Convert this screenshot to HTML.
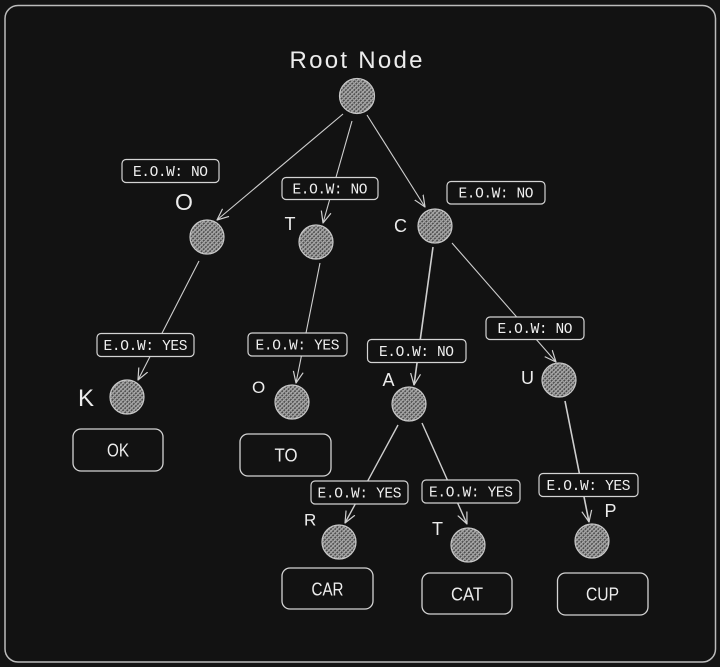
<!DOCTYPE html>
<html><head><meta charset="utf-8"><style>
html,body{margin:0;padding:0;background:#121212;}
svg{display:block;}
.m{font-family:"Liberation Mono",monospace;font-size:14.5px;fill:#f0f0f0;}
.s{font-family:"Liberation Sans",sans-serif;fill:#ececec;}
</style></head><body>
<svg width="720" height="667" viewBox="0 0 720 667" xmlns="http://www.w3.org/2000/svg">
<defs>
<pattern id="h" width="3" height="3" patternUnits="userSpaceOnUse" patternTransform="rotate(45)">
<rect width="3" height="3" fill="#4a4a4a"/>
<rect width="1.3" height="3" fill="#b4b4b4"/>
<rect width="3" height="1.1" fill="#9e9e9e"/>
</pattern>
<marker id="a" viewBox="0 0 12 12" refX="11.5" refY="6" markerWidth="12" markerHeight="12" markerUnits="userSpaceOnUse" orient="auto">
<path d="M0,1 L11.5,6 L0,11" fill="none" stroke="#d0d0d0" stroke-width="1.2"/>
</marker>
</defs>
<rect x="0" y="0" width="720" height="667" fill="#141414"/>
<rect x="5" y="5.5" width="710.5" height="656.5" rx="13" fill="#121212" stroke="#bcbcbc" stroke-width="1.5"/>

<text class="s" x="356" y="68" font-size="24" text-anchor="middle" textLength="133" lengthAdjust="spacing">Root Node</text>

<g stroke="#cfcfcf" stroke-width="1.1" fill="none" marker-end="url(#a)">
<line x1="343" y1="114" x2="217" y2="220"/>
<line x1="352" y1="121" x2="323" y2="223"/>
<line x1="367" y1="115" x2="425" y2="207"/>
<line x1="199" y1="261" x2="138" y2="380"/>
<line x1="320" y1="263" x2="296" y2="383"/>
<line x1="433" y1="247" x2="414" y2="385" stroke-width="1.6"/>
<line x1="452" y1="243" x2="556" y2="362"/>
<line x1="398" y1="425" x2="345" y2="523" stroke-width="1.4"/>
<line x1="422" y1="423" x2="467" y2="524" stroke-width="1.4"/>
<line x1="565" y1="401" x2="589" y2="522" stroke-width="1.6"/>
</g>

<g fill="url(#h)" stroke="#c8c8c8" stroke-width="1.2">
<circle cx="357" cy="96" r="17.5"/>
<circle cx="207" cy="237" r="17"/>
<circle cx="316" cy="242" r="17"/>
<circle cx="435" cy="226" r="17"/>
<circle cx="127" cy="397" r="17"/>
<circle cx="292" cy="402" r="17"/>
<circle cx="409" cy="404" r="17"/>
<circle cx="559" cy="380" r="17"/>
<circle cx="339" cy="542" r="17"/>
<circle cx="468" cy="545" r="17"/>
<circle cx="592" cy="541" r="17"/>
</g>

<g fill="#121212" stroke="#d4d4d4" stroke-width="1.2">
<rect x="122" y="159.5" width="97" height="23" rx="4"/>
<rect x="282" y="177.5" width="96" height="22" rx="4"/>
<rect x="447" y="181.5" width="98" height="22.5" rx="4"/>
<rect x="97" y="333.5" width="97" height="23" rx="4"/>
<rect x="248" y="333" width="99" height="23" rx="4"/>
<rect x="367.5" y="339.5" width="98.5" height="23" rx="4"/>
<rect x="486" y="317" width="98" height="22.5" rx="4"/>
<rect x="311" y="481" width="97" height="23" rx="4"/>
<rect x="422" y="480" width="98" height="23" rx="4"/>
<rect x="539" y="473.5" width="99" height="23" rx="4"/>
</g>
<g class="m" text-anchor="middle">
<text x="170.5" y="176" textLength="75">E.O.W: NO</text>
<text x="330" y="193.5" textLength="75">E.O.W: NO</text>
<text x="496" y="197.5" textLength="75">E.O.W: NO</text>
<text x="145.5" y="350" textLength="84">E.O.W: YES</text>
<text x="297.5" y="349.5" textLength="84">E.O.W: YES</text>
<text x="416.5" y="356" textLength="75">E.O.W: NO</text>
<text x="535" y="333" textLength="75">E.O.W: NO</text>
<text x="359.5" y="497.5" textLength="84">E.O.W: YES</text>
<text x="471" y="496.5" textLength="84">E.O.W: YES</text>
<text x="588.5" y="490" textLength="84">E.O.W: YES</text>
</g>

<g class="s">
<text x="175" y="210" font-size="23">O</text>
<text x="284.5" y="230" font-size="18">T</text>
<text x="394" y="232" font-size="18">C</text>
<text x="78" y="406" font-size="24">K</text>
<text x="252" y="393" font-size="17">O</text>
<text x="382.5" y="386" font-size="18">A</text>
<text x="521" y="384" font-size="18">U</text>
<text x="304" y="525.5" font-size="17">R</text>
<text x="432" y="535" font-size="18">T</text>
<text x="604.5" y="517" font-size="18">P</text>
</g>

<g fill="#121212" stroke="#d4d4d4" stroke-width="1.3">
<rect x="73" y="429" width="90" height="42" rx="8"/>
<rect x="240" y="434" width="91" height="42" rx="8"/>
<rect x="282" y="568" width="91" height="41" rx="8"/>
<rect x="422" y="573" width="90" height="41" rx="8"/>
<rect x="557.5" y="573" width="90.5" height="42" rx="8"/>
</g>
<g class="s" font-size="18" text-anchor="middle">
<text x="118" y="456.5" textLength="22" lengthAdjust="spacingAndGlyphs">OK</text>
<text x="286" y="461.5" textLength="23" lengthAdjust="spacingAndGlyphs">TO</text>
<text x="327.5" y="595.5" textLength="32" lengthAdjust="spacingAndGlyphs">CAR</text>
<text x="467" y="600.5" textLength="32" lengthAdjust="spacingAndGlyphs">CAT</text>
<text x="602.5" y="600.5" textLength="33" lengthAdjust="spacingAndGlyphs">CUP</text>
</g>
</svg>
</body></html>
